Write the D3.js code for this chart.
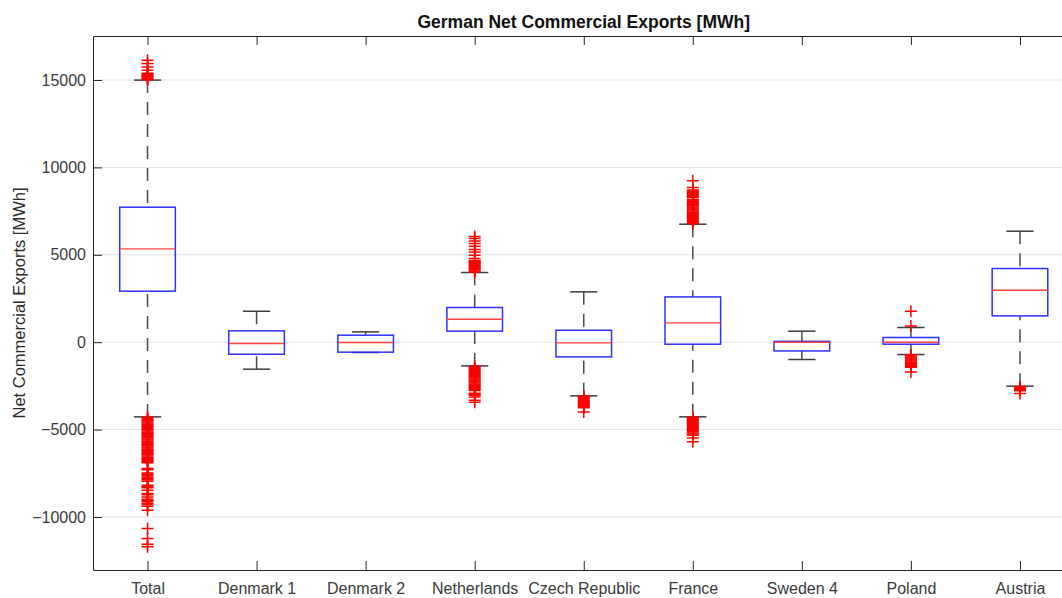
<!DOCTYPE html>
<html>
<head>
<meta charset="utf-8">
<script src="https://cdn.jsdelivr.net/npm/d3@7"></script>
<style>
  html, body { margin: 0; padding: 0; background: #fff; }
  svg { display: block; font-family: "Liberation Sans", Arial, Helvetica, sans-serif; }
</style>
</head>
<body>
<svg id="chart" width="1062" height="598"></svg>
<script>
// Interconnector categories (x positions 1..9)
const categories = ["Total", "Denmark 1", "Denmark 2", "Netherlands", "Czech Republic",
                    "France", "Sweden 4", "Poland", "Austria"];

// Box statistics per category [MWh]
const q1          = [2918,  -690, -570,   630,  -840,  -115, -500, -115, 1505];
const medians     = [5338,   -75,  -20,  1316,   -38,  1106,    0,    0, 2975];
const q3          = [7723,   650,  400,  1985,   686,  2590,   50,  270, 4215];
const whiskerLow  = [-4273, -1545, -590, -1356, -3070, -4270, -990, -705, -2517];
const whiskerHigh = [14994,  1770,  590,  3987,  2880,  6750,  630,  840, 6350];

// Outlying hours per category [MWh]
const outliersTotal = [
  15020, 15070, 15120, 15170, 15220, 15270, 15320, 15390, 15560, 15750, 15940, 16130,
  -4300, -4365, -4430, -4495, -4560, -4625, -4690, -4755, -4820, -4885, -4950, -5015,
  -5080, -5145, -5210, -5275, -5340, -5405, -5470, -5535, -5600, -5665, -5730, -5795,
  -5860, -5925, -5990, -6055, -6120, -6185, -6250, -6315, -6380, -6445, -6510, -6575,
  -6640, -6705, -6770, -6835, -6900, -7224, -7300, -7476, -7560, -7640, -7720, -7796,
  -7870, -7951, -8180, -8250, -8323, -8466, -8654, -8720, -8849, -8980, -9038, -9110,
  -9210, -9290, -9381, -9610, -10656, -11228, -11554, -11708
];
const outliersDenmark1 = [];
const outliersDenmark2 = [];
const outliersNetherlands = [
  4020, 4080, 4140, 4200, 4260, 4320, 4380, 4440, 4500, 4560, 4620, 4680,
  4787, 4977, 5165, 5303, 5492, 5645, 5792, 5930, 6050,
  -1380, -1440, -1500, -1560, -1620, -1680, -1740, -1800, -1860, -1920, -1980, -2040,
  -2100, -2160, -2220, -2280, -2340, -2400, -2460, -2520, -2580, -2640, -2700, -2760,
  -2920, -2975, -3030, -3130, -3318, -3430
];
const outliersCzech = [
  -3090, -3150, -3210, -3270, -3330, -3390, -3450, -3510, -3570, -3630, -3690, -3750, -3990
];
const outliersFrance = [
  6780, 6840, 6900, 6960, 7020, 7080, 7140, 7200, 7260, 7320, 7380, 7440, 7500, 7560,
  7620, 7680, 7740, 7800, 7860, 7920, 7980, 8040, 8100, 8160, 8280, 8340, 8400, 8460,
  8520, 8580, 8640, 8700, 8850, 9230,
  -4290, -4350, -4410, -4470, -4530, -4590, -4650, -4710, -4770, -4830, -4890, -4950,
  -5010, -5070, -5130, -5190, -5250, -5320, -5475, -5700
];
const outliersSweden4 = [];
const outliersPoland = [
  920, 1770,
  -720, -780, -840, -900, -960, -1020, -1080, -1140, -1200, -1260, -1320, -1380, -1440, -1700
];
const outliersAustria = [-2540, -2600, -2660, -2720, -2780, -2935];

const outliers = [outliersTotal, outliersDenmark1, outliersDenmark2, outliersNetherlands,
                  outliersCzech, outliersFrance, outliersSweden4, outliersPoland, outliersAustria];

const yTicks = [-10000, -5000, 0, 5000, 10000, 15000];

const svg = d3.select("#chart");
const plot = { left: 93, top: 36, bottom: 570, right: 1074.5 };

const x = d3.scaleLinear().domain([0.5, 9.5]).range([plot.left, plot.right]);
const y = d3.scaleLinear().domain([-13032, 17517]).range([plot.bottom, plot.top]);

const axisColor = "#262626";
const labelColor = "#3a3a3a";

// horizontal grid
svg.append("g")
  .selectAll("line")
  .data(yTicks)
  .join("line")
  .attr("x1", plot.left).attr("x2", plot.right)
  .attr("y1", d => y(d)).attr("y2", d => y(d))
  .attr("stroke", "#e2e2e2").attr("stroke-width", 1);

// axes (ticks point into the plot)
const gLeft = svg.append("g")
  .attr("transform", `translate(${plot.left},0)`)
  .call(d3.axisLeft(y).tickValues(yTicks).tickFormat(d3.format("d"))
        .tickSizeInner(-9).tickSizeOuter(0).tickPadding(7));

const gBottom = svg.append("g")
  .attr("transform", `translate(0,${plot.bottom})`)
  .call(d3.axisBottom(x).tickValues(d3.range(1, categories.length + 1))
        .tickFormat(i => categories[i - 1])
        .tickSizeInner(-9).tickSizeOuter(0).tickPadding(13));

const gTop = svg.append("g")
  .attr("transform", `translate(0,${plot.top})`)
  .call(d3.axisTop(x).tickValues(d3.range(1, categories.length + 1))
        .tickFormat("").tickSizeInner(-9).tickSizeOuter(0));

[gLeft, gBottom, gTop].forEach(g => {
  g.select(".domain").attr("stroke", axisColor).attr("stroke-width", 1);
  g.selectAll(".tick line").attr("stroke", axisColor).attr("stroke-width", 1);
  g.selectAll(".tick text").attr("fill", labelColor).attr("font-size", 16)
    .attr("font-family", "Liberation Sans, Arial, sans-serif");
});

// boxes
const halfBox = 0.255;
const halfCap = 0.125;
const rows = categories.map((c, i) => ({
  i, pos: i + 1, q1: q1[i], med: medians[i], q3: q3[i],
  lo: whiskerLow[i], hi: whiskerHigh[i], out: outliers[i]
}));

const boxes = svg.append("g").selectAll("g").data(rows).join("g");

// whiskers (dashed)
boxes.append("line")
  .attr("x1", d => x(d.pos)).attr("x2", d => x(d.pos))
  .attr("y1", d => y(d.hi)).attr("y2", d => y(d.q3))
  .attr("stroke", "#4a4a4a").attr("stroke-width", 1.5).attr("stroke-dasharray", "13,9");
boxes.append("line")
  .attr("x1", d => x(d.pos)).attr("x2", d => x(d.pos))
  .attr("y1", d => y(d.lo)).attr("y2", d => y(d.q1))
  .attr("stroke", "#4a4a4a").attr("stroke-width", 1.5).attr("stroke-dasharray", "13,9");

// whisker caps
boxes.append("line")
  .attr("x1", d => x(d.pos - halfCap)).attr("x2", d => x(d.pos + halfCap))
  .attr("y1", d => y(d.hi)).attr("y2", d => y(d.hi))
  .attr("stroke", "#3c3c3c").attr("stroke-width", 1.5);
boxes.append("line")
  .attr("x1", d => x(d.pos - halfCap)).attr("x2", d => x(d.pos + halfCap))
  .attr("y1", d => y(d.lo)).attr("y2", d => y(d.lo))
  .attr("stroke", "#3c3c3c").attr("stroke-width", 1.5);

// box body
boxes.append("rect")
  .attr("x", d => x(d.pos - halfBox))
  .attr("width", d => x(d.pos + halfBox) - x(d.pos - halfBox))
  .attr("y", d => y(d.q3))
  .attr("height", d => y(d.q1) - y(d.q3))
  .attr("fill", "none").attr("stroke", "#3030ff").attr("stroke-width", 1.5);

// median
boxes.append("line")
  .attr("x1", d => x(d.pos - halfBox)).attr("x2", d => x(d.pos + halfBox))
  .attr("y1", d => y(d.med)).attr("y2", d => y(d.med))
  .attr("stroke", "#ff4040").attr("stroke-width", 1.4);

// outliers as '+' markers
const plusHalf = 6;
boxes.each(function (d) {
  const g = d3.select(this).append("g").attr("stroke", "#ff0000").attr("stroke-width", 1.5);
  g.selectAll("path")
    .data(d.out)
    .join("path")
    .attr("d", v => {
      const cx = x(d.pos), cy = y(v);
      return `M${cx - plusHalf},${cy}H${cx + plusHalf}M${cx},${cy - plusHalf}V${cy + plusHalf}`;
    })
    .attr("fill", "none");
});

// title
svg.append("text")
  .attr("x", (plot.left + plot.right) / 2).attr("y", 28)
  .attr("text-anchor", "middle")
  .attr("font-size", 17.5).attr("font-weight", "bold").attr("fill", "#111")
  .text("German Net Commercial Exports [MWh]");

// y-axis title
svg.append("text")
  .attr("transform", `translate(25,${(plot.top + plot.bottom) / 2}) rotate(-90)`)
  .attr("text-anchor", "middle")
  .attr("font-size", 16.5).attr("fill", "#2a2a2a")
  .text("Net Commercial Exports [MWh]");
</script>
</body>
</html>
